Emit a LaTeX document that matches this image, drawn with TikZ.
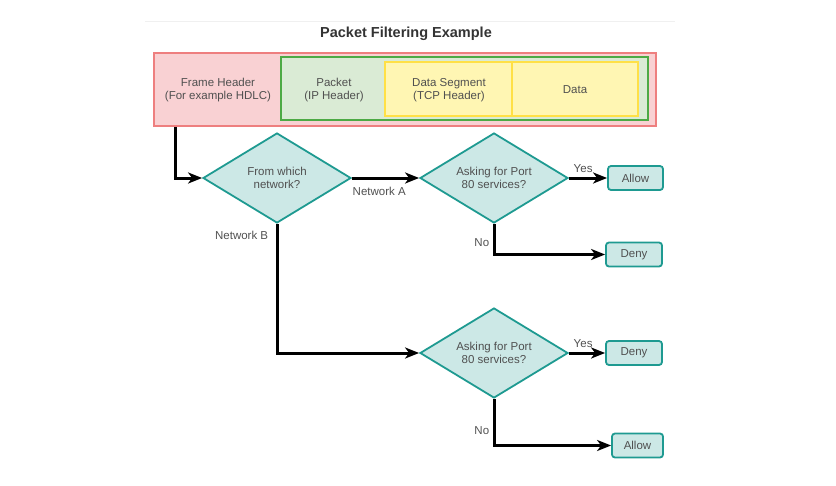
\documentclass[tikz,border=0pt]{standalone}
\usepackage{fontspec}
\setmainfont{Liberation Sans}
\usetikzlibrary{shapes,arrows,arrows.meta,positioning}

\definecolor{txtgray}{HTML}{505050}
\definecolor{titlegray}{HTML}{333333}
\definecolor{framefill}{HTML}{F9D1D3}
\definecolor{frameline}{HTML}{EE7F7F}
\definecolor{pktfill}{HTML}{DAEBD5}
\definecolor{pktline}{HTML}{4DAA45}
\definecolor{segfill}{HTML}{FFF6B3}
\definecolor{segline}{HTML}{FFE046}
\definecolor{tealfill}{HTML}{CCE8E6}
\definecolor{tealline}{HTML}{1E9A91}

\begin{document}
\begin{tikzpicture}[x=1pt, y=-1pt,
    every node/.style={font=\fontsize{11.5}{12.5}\selectfont, text=txtgray, align=center},
    layer/.style={rectangle, line width=1.6pt, inner sep=0pt},
    decision/.style={diamond, aspect=1.64, draw=tealline, fill=tealfill, line width=1.8pt, inner sep=0pt, minimum width=148pt, minimum height=90pt},
    result/.style={rectangle, rounded corners=3pt, draw=tealline, fill=tealfill, line width=1.8pt, minimum height=24pt},
    arrow/.style={-{Stealth[length=14pt, width=11pt, inset=4pt]}, line width=3pt, black}
]
\useasboundingbox (0,0) rectangle (836,485);

% Title
\draw[black!6, line width=0.8pt] (145,21) -- (675,21);
\node[font=\fontsize{14.5}{16}\selectfont\bfseries, text=titlegray] (title) at (406,34) {Packet Filtering Example};

% Frame layers
\node[layer, draw=frameline, fill=framefill, minimum width=502pt, minimum height=73pt] (frame) at (405,89.5) {};
\node[layer, draw=pktline, fill=pktfill, minimum width=367pt, minimum height=63pt] (packet) at (464.5,88.5) {};
\node[layer, draw=segline, fill=segfill, minimum width=127pt, minimum height=54pt] (segment) at (448.5,89) {};
\node[layer, draw=segline, fill=segfill, minimum width=126pt, minimum height=54pt] (data) at (575,89) {};

\node (frametxt) at (218,90) {Frame Header\\(For example HDLC)};
\node (pkttxt) at (334,90) {Packet\\(IP Header)};
\node (segtxt) at (449,90) {Data Segment\\(TCP Header)};
\node (datatxt) at (575,90) {Data};

% Decisions
\node[decision] (d1) at (277,178) {From which\\network?};
\node[decision] (d2) at (494,178) {Asking for Port\\80 services?};
\node[decision] (d3) at (494,353) {Asking for Port\\80 services?};

% Results
\node[result, minimum width=55pt] (allow1) at (635.5,178) {Allow};
\node[result, minimum width=56pt] (deny1) at (634,254.5) {Deny};
\node[result, minimum width=56pt] (deny2) at (634,353) {Deny};
\node[result, minimum width=51pt] (allow2) at (637.5,445.5) {Allow};

% Connectors
\draw[arrow] ([xshift=22pt]frame.south west) |- (d1.west);
\draw[arrow] (d1.east) -- (d2.west) node[pos=0, below right, yshift=-4pt, xshift=-4pt] {Network A};
\draw[arrow] (d1.south) |- (d3.west) node[pos=0.045, left, xshift=-4pt] {Network B};
\draw[arrow] (d2.east) -- (allow1.west) node[pos=0, above right, yshift=1pt] {Yes};
\draw[arrow] (d2.south) |- (deny1.west) node[pos=0.3, left] {No};
\draw[arrow] (d3.east) -- (deny2.west) node[pos=0, above right, yshift=1pt] {Yes};
\draw[arrow] (d3.south) |- (allow2.west) node[pos=0.34, left] {No};

\end{tikzpicture}
\end{document}
